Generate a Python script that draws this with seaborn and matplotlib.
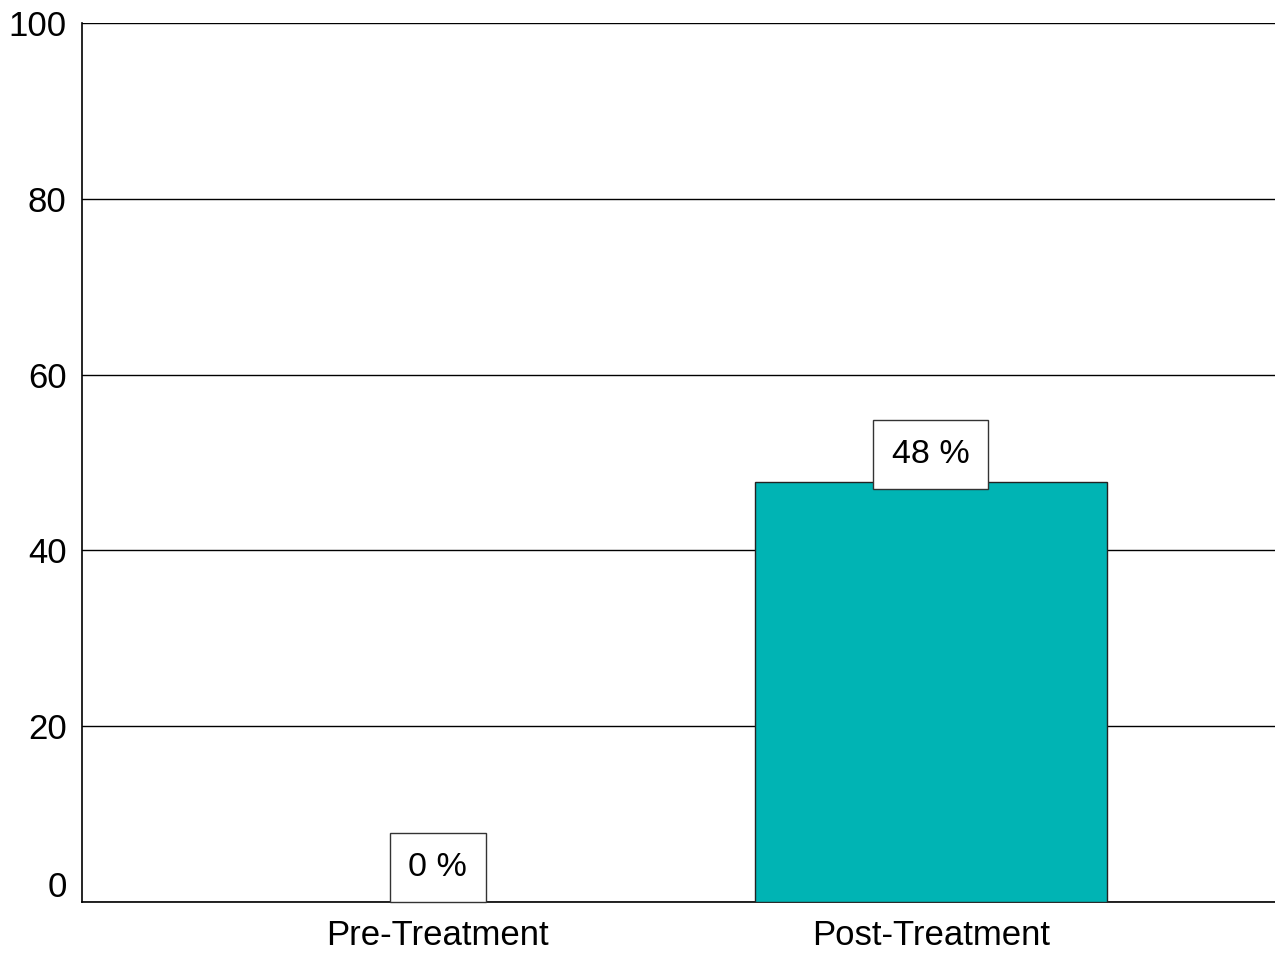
import matplotlib
matplotlib.use("Agg")
import matplotlib.pyplot as plt
import matplotlib.transforms as mtransforms
import seaborn as sns
import pandas as pd

categories = ["Pre-Treatment", "Post-Treatment"]
values = [0.0, 47.8]
labels = ["0 %", "48 %"]
yticks = [0, 20, 40, 60, 80, 100]

sns.set_theme(style="white")
plt.rcParams["font.family"] = ["Liberation Sans", "DejaVu Sans"]

df = pd.DataFrame({"cat": categories, "val": values})

fig = plt.figure(figsize=(12.75, 9.55), dpi=100)
ax = fig.add_axes([82 / 1275, 1 - 902 / 955, (1275 - 82) / 1275, (902 - 23) / 955])

sns.barplot(data=df, x="cat", y="val", ax=ax, color="#00B4B4", saturation=1,
            width=0.714, edgecolor="#222222", linewidth=1.0, zorder=3)

ax.set_xlim(-0.722, 1.698)
ax.set_ylim(0, 100)
ax.set_yticks(yticks)
ax.set_yticklabels([str(t) for t in yticks])
ax.yaxis.grid(True, color="black", linewidth=1.0, zorder=0)
ax.set_axisbelow(True)
ax.set_xlabel("")
ax.set_ylabel("")

for s in ["top", "right"]:
    ax.spines[s].set_visible(False)
for s in ["left", "bottom"]:
    ax.spines[s].set_color("black")
    ax.spines[s].set_linewidth(1.2)

ax.tick_params(axis="both", length=0, labelsize=25, colors="black")
ax.tick_params(axis="y", pad=11)
ax.tick_params(axis="x", pad=12)

# shift the "0" tick label up like the original
lab0 = ax.get_yticklabels()[0]
lab0.set_transform(lab0.get_transform() + mtransforms.ScaledTranslation(0, 18 / 100, fig.dpi_scale_trans))

box_half_pt = 24.8  # keeps label box above the baseline
for i, (v, lab) in enumerate(zip(values, labels)):
    v_px = ax.transData.transform((0, v))[1] - ax.transData.transform((0, 0))[1]
    off = max(19.8, box_half_pt - v_px * 72 / fig.dpi)
    ax.annotate(lab, xy=(i, v), xytext=(0, off), textcoords="offset points",
                ha="center", va="center", fontsize=24.5, color="black", zorder=5,
                bbox=dict(boxstyle="square,pad=0.55", fc="white", ec="#333333", lw=1.0))

fig.savefig("out.png", dpi=100)
